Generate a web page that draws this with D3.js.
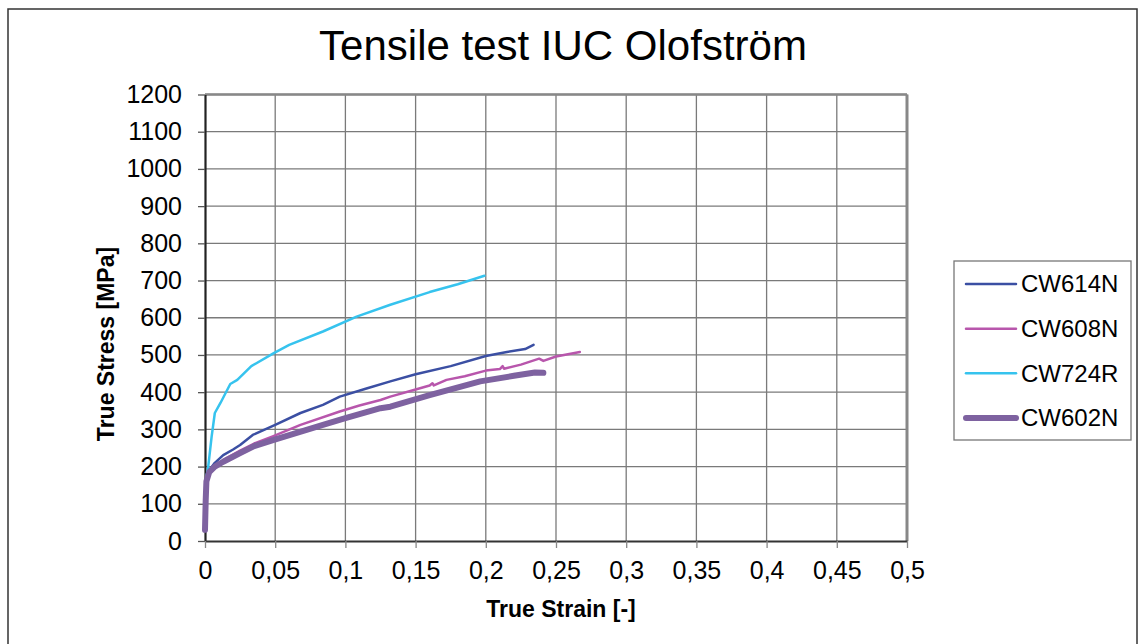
<!DOCTYPE html>
<html><head><meta charset="utf-8">
<script src="https://cdn.jsdelivr.net/npm/d3@7"></script>
<style>body{margin:0;background:#fff}svg{display:block;font-family:"Liberation Sans",Arial,sans-serif}</style>
</head><body><svg id="c" width="1141" height="644"></svg>
<script>
const seriesNames = ["CW614N","CW608N","CW724R","CW602N"];
const seriesColors = ["#3B4FA3","#B856AC","#36C3EE","#7E62A0"];
const seriesWidths = [2.5,2.5,2.5,6];
const xTickValues = [0,0.05,0.1,0.15,0.2,0.25,0.3,0.35,0.4,0.45,0.5];
const xTickLabels = ["0","0,05","0,1","0,15","0,2","0,25","0,3","0,35","0,4","0,45","0,5"];
const yTickValues = [0,100,200,300,400,500,600,700,800,900,1000,1100,1200];
const yTickLabels = ["0","100","200","300","400","500","600","700","800","900","1000","1100","1200"];
const cw614n = [[0,30],[0.0005,120],[0.001,170],[0.003,190],[0.007,210],[0.013,231],[0.02,246],[0.025,258],[0.034,285],[0.05,312],[0.068,344],[0.084,366],[0.096,388],[0.115,410],[0.132,429],[0.15,448],[0.175,470],[0.2,497],[0.215,508],[0.228,516],[0.234,527]];
const cw608n = [[0,30],[0.0005,120],[0.001,165],[0.003,185],[0.008,205],[0.015,222],[0.025,243],[0.035,262],[0.0487,282],[0.068,312],[0.096,348],[0.11,364],[0.125,379],[0.132,388],[0.15,407],[0.16,418],[0.162,424],[0.163,418],[0.172,433],[0.185,443],[0.2,458],[0.21,462],[0.212,470],[0.213,463],[0.225,474],[0.238,490],[0.241,484],[0.25,496],[0.267,508]];
const cw724r = [[0,30],[0.0005,120],[0.001,175],[0.002,190],[0.0047,280],[0.007,344],[0.011,371],[0.018,422],[0.023,433],[0.033,470],[0.049,505],[0.06,527],[0.084,563],[0.108,603],[0.132,635],[0.16,669],[0.18,690],[0.199,713]];
const cw602n = [[0,30],[0.0005,110],[0.001,160],[0.003,185],[0.007,200],[0.013,213],[0.025,236],[0.035,255],[0.049,272],[0.084,312],[0.1,330],[0.125,357],[0.132,361],[0.16,392],[0.196,429],[0.22,444],[0.235,453],[0.241,452]];
const seriesData = [cw614n, cw608n, cw724r, cw602n];

const svg = d3.select("#c");
const L=205, R=907, T=94.5, B=541;
const x = d3.scaleLinear().domain([0,0.5]).range([L,R]);
const y = d3.scaleLinear().domain([0,1200]).range([B,T]);

// outer frame
svg.append("rect").attr("x",8).attr("y",9).attr("width",1129).attr("height",660)
  .attr("fill","none").attr("stroke","#333").attr("stroke-width",1.5);

// title
svg.append("text").attr("x",563).attr("y",60).attr("text-anchor","middle")
  .attr("font-size",42).attr("fill","#000").text("Tensile test IUC Olofström");

// grid
const g = svg.append("g");
g.selectAll("line.v").data(xTickValues.slice(1)).enter().append("line")
  .attr("x1",d=>x(d)).attr("x2",d=>x(d)).attr("y1",T).attr("y2",B)
  .attr("stroke","#7a7a7a").attr("stroke-width",1.3);
g.selectAll("line.h").data(yTickValues.slice(1)).enter().append("line")
  .attr("x1",L).attr("x2",R).attr("y1",d=>y(d)).attr("y2",d=>y(d))
  .attr("stroke","#7a7a7a").attr("stroke-width",1.3);
// plot frame top/right
svg.append("line").attr("x1",L).attr("x2",R).attr("y1",T).attr("y2",T).attr("stroke","#888").attr("stroke-width",2.5);
svg.append("line").attr("x1",R).attr("x2",R).attr("y1",T).attr("y2",B).attr("stroke","#888").attr("stroke-width",3);

// axes
const yAxis = d3.axisLeft(y).tickValues(yTickValues).tickFormat((d,i)=>yTickLabels[i]).tickSize(7).tickSizeOuter(0).tickPadding(16);
const ya = svg.append("g").attr("transform",`translate(${L},0)`).call(yAxis);
ya.select(".domain").attr("stroke","#222").attr("stroke-width",2.2);
ya.selectAll(".tick line").attr("stroke","#555").attr("stroke-width",1.3);
ya.selectAll("text").attr("font-size",25).attr("fill","#000").attr("font-family","Liberation Sans, Arial, sans-serif");

const xAxis = d3.axisBottom(x).tickValues(xTickValues).tickFormat((d,i)=>xTickLabels[i]).tickSize(7).tickSizeOuter(0).tickPadding(13);
const xa = svg.append("g").attr("transform",`translate(0,${B})`).call(xAxis);
xa.select(".domain").attr("stroke","#333").attr("stroke-width",2);
xa.selectAll(".tick line").attr("stroke","#888").attr("stroke-width",1.3);
xa.selectAll("text").attr("font-size",25).attr("fill","#000").attr("font-family","Liberation Sans, Arial, sans-serif");

// axis titles
svg.append("text").attr("x",561).attr("y",617).attr("text-anchor","middle")
  .attr("font-size",23).attr("font-weight","bold").text("True Strain [-]");
svg.append("text").attr("transform","translate(114,344) rotate(-90)").attr("text-anchor","middle")
  .attr("font-size",23).attr("font-weight","bold").text("True Stress [MPa]");

// lines
const line = d3.line().x(d=>x(d[0])).y(d=>y(d[1]));
const order = [2,0,1,3];
order.forEach(i=>{
  svg.append("path").datum(seriesData[i]).attr("d",line).attr("fill","none")
    .attr("stroke",seriesColors[i]).attr("stroke-width",seriesWidths[i])
    .attr("stroke-linejoin","round").attr("stroke-linecap","round");
});

// legend
const lg = svg.append("g");
lg.append("rect").attr("x",954).attr("y",261).attr("width",177).attr("height",179)
  .attr("fill","#fff").attr("stroke","#777").attr("stroke-width",1.3);
const rowY = d3.scalePoint().domain(seriesNames).range([284,418]);
seriesNames.forEach((n,i)=>{
  lg.append("line").attr("x1",966).attr("x2",1016).attr("y1",rowY(n)).attr("y2",rowY(n))
    .attr("stroke",seriesColors[i]).attr("stroke-width",seriesWidths[i]).attr("stroke-linecap","round");
  lg.append("text").attr("x",1021).attr("y",rowY(n)).attr("dy","0.35em")
    .attr("font-size",24).attr("fill","#000").text(n);
});
</script></body></html>
